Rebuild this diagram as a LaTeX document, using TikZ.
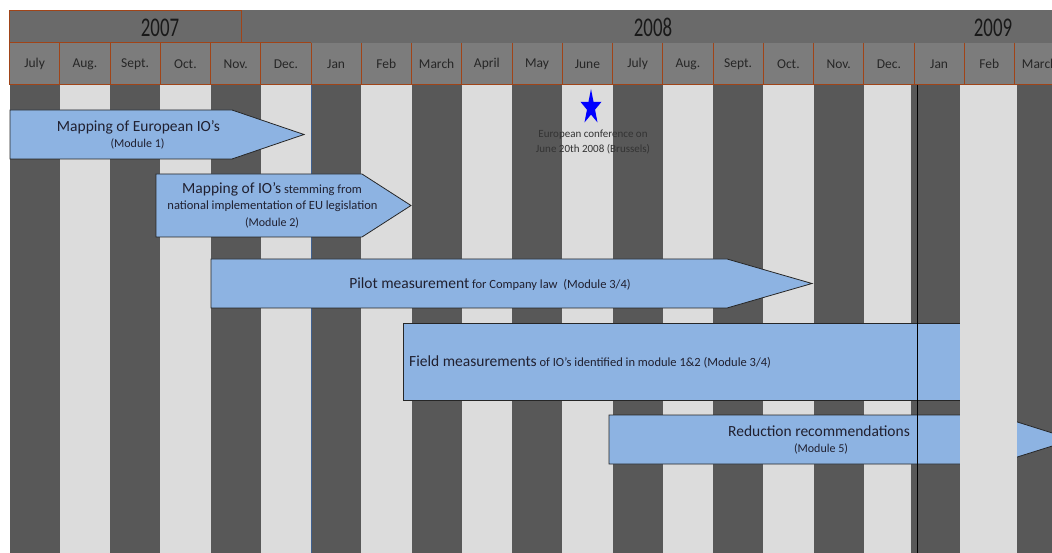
\documentclass[tikz,border=0pt]{standalone}
\usepackage{fontspec}
\setmainfont{Carlito}
\newfontfamily\yearfont{Carlito}[FakeStretch=0.7]
\definecolor{darkstripe}{HTML}{585858}
\definecolor{lightstripe}{HTML}{DCDCDC}
\definecolor{yearrow}{HTML}{6A6A6A}
\definecolor{monthrow}{HTML}{7C7C7C}
\definecolor{brownline}{HTML}{A04418}
\definecolor{arrowfill}{HTML}{8DB3E2}
\definecolor{txt}{HTML}{202030}
\definecolor{bluestar}{HTML}{0000FF}
\definecolor{yearline}{HTML}{3F6090}
\definecolor{confgray}{HTML}{333333}
\tikzset{
  arrowbox/.style={fill=arrowfill, draw=black!85, line width=0.8pt, line join=miter},
  monthlbl/.style={inner sep=0pt, text=black!85, font=\fontsize{13.5}{15}\selectfont},
  yearlbl/.style={inner sep=0pt, text=black!90, font=\yearfont\fontsize{27}{30}\selectfont},
  ttl/.style={inner sep=0pt, text=txt, font=\fontsize{15.5}{17}\selectfont},
  sub/.style={inner sep=0pt, text=txt, font=\fontsize{12.5}{14}\selectfont},
  conf/.style={inner sep=0pt, text=confgray, font=\fontsize{11}{13}\selectfont},
}
\newcommand{\bigtxt}[1]{{\fontsize{15.5}{17}\selectfont #1}}
\begin{document}
\begin{tikzpicture}[x=1pt,y=-1pt]
\useasboundingbox (0,0) rectangle (1052,553);
\clip (0,0) rectangle (1052,553);
\fill[white] (0,0) rectangle (1052,553);
% stripes
\foreach \i in {1,3,...,17}
  \fill[lightstripe] ({9.5+50.25*\i},85) rectangle ({9.5+50.25*(\i+1)},553);
\foreach \i in {0,2,...,16}
  \fill[darkstripe] ({9.5+50.25*\i},85) rectangle ({9.5+50.25*(\i+1)},553);
\fill[darkstripe] (911,85) rectangle (960,553);
\fill[darkstripe] (1017,85) rectangle (1052,553);
% header
\fill[yearrow] (9.5,10.5) rectangle (1052,43);
\fill[monthrow] (9.5,43) rectangle (1052,85);
\draw[brownline, line width=1pt] (9.5,10.5) rectangle (241,43);
\draw[brownline, line width=1pt] (9.5,43) -- (311,43);
\draw[brownline, line width=1pt] (9.5,85) -- (1052,85);
\foreach \m [count=\i from 0] in {July,Aug.,Sept.,Oct.,Nov.,Dec.,Jan,Feb,March,April,May,June,July,Aug.,Sept.,Oct.,Nov.,Dec.,Jan,Feb,March}{
  \draw[brownline, line width=1pt] ({9.5+50.25*\i},43) -- ({9.5+50.25*\i},85);
  \node[monthlbl] (m\i) at ({9.5+50.25*(\i+0.5)},64) {\m};
}
\node[yearlbl] (y2007) at (160,27.5) {2007};
\node[yearlbl] (y2008) at (653,27.5) {2008};
\node[yearlbl] (y2009) at (993,27.5) {2009};
% year boundary line 2007/2008
\draw[yearline, line width=1pt] (311,85) -- (311,553);
% star and conference text
\begin{scope}[shift={(591,107.5)}, xscale=0.6]
\fill[bluestar] (-90:18.5) -- (-54:7.1) -- (-18:18.5) -- (18:7.1) -- (54:18.5) -- (90:7.1) -- (126:18.5) -- (162:7.1) -- (198:18.5) -- (234:7.1) -- cycle;
\end{scope}
\node[conf] (conf1) at (593,135) {European conference on};
\node[conf] (conf2) at (593,149) {June 20th 2008 (Brussels)};
% arrow 1
\filldraw[arrowbox] (10,110) -- (232,110) -- (304,134.5) -- (232,159) -- (10,159) -- cycle;
\node[ttl] (a1t) at (138.5,127) {Mapping of European IO's};
\node[sub, font=\fontsize{12}{14}\selectfont] (a1m) at (137.5,144) {(Module 1)};
% arrow 2
\filldraw[arrowbox] (156,174) -- (362,174) -- (411,205.5) -- (362,237) -- (156,237) -- cycle;
\node[sub] (a2t) at (272,189) {\bigtxt{Mapping of IO's} stemming from};
\node[sub] (a2l) at (272.5,206) {national implementation of EU legislation};
\node[sub, font=\fontsize{12}{14}\selectfont] (a2m) at (272,223) {(Module 2)};
% arrow 3
\filldraw[arrowbox] (211,259) -- (727,259) -- (812,283.5) -- (727,308) -- (211,308) -- cycle;
\node[sub] (a3t) at (490,284) {\bigtxt{Pilot measurement} for Company law\ \ (Module 3/4)};
% arrow 4
\filldraw[arrowbox] (403,323) -- (1000,323) -- (1000,400) -- (403,400) -- cycle;
\node[sub, anchor=west] (a4t) at (409,362) {\bigtxt{Field measurements} of IO's identified in module 1\&2 (Module 3/4)};
% arrow 5
\filldraw[arrowbox] (609,415) -- (995,415) -- (1073,439.5) -- (995,464) -- (609,464) -- cycle;
\node[ttl] (a5t) at (819,431) {Reduction recommendations};
\node[sub, font=\fontsize{12}{14}\selectfont] (a5m) at (821,449) {(Module 5)};
% Feb 2009 stripe over arrows
\fill[lightstripe] (960,85) rectangle (1017,553);
% 2008/2009 boundary line
\draw[black, line width=1pt] (917,85) -- (917,553);
\end{tikzpicture}
\end{document}
